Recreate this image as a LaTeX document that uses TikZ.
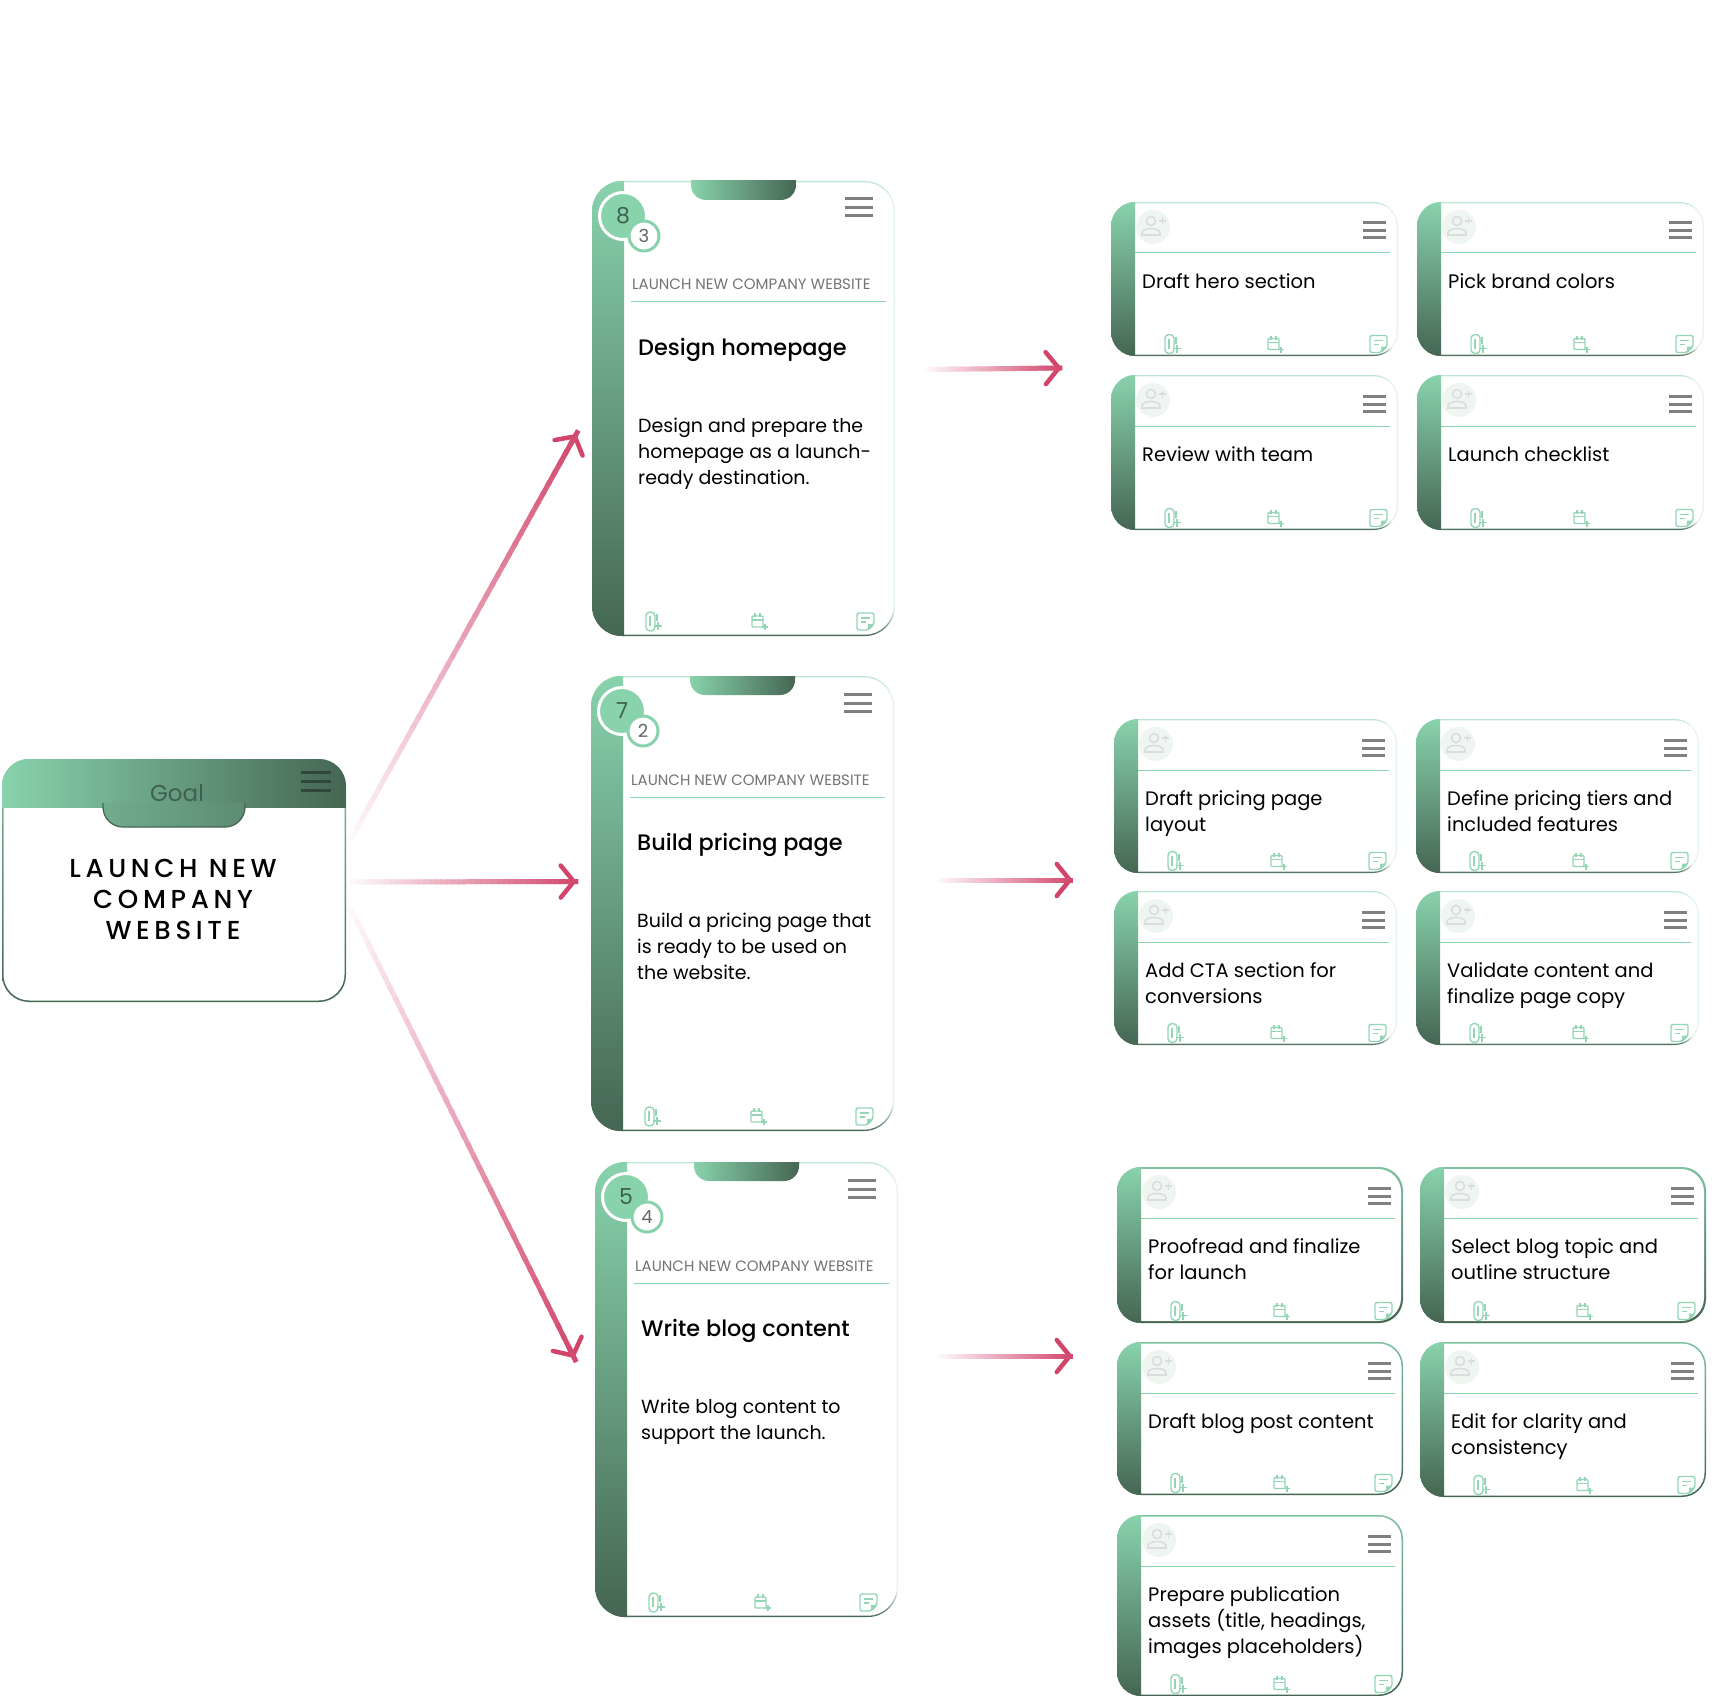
\documentclass[tikz,border=0pt]{standalone}
\usepackage{fontspec}
\setmainfont{Poppins}
\newfontfamily\mediumfont{Poppins Medium}
\newfontfamily\spacedfont[LetterSpace=18]{Poppins Medium}
\usetikzlibrary{arrows.meta,calc}

\definecolor{mint}{HTML}{88D2AC}
\definecolor{pine}{HTML}{456652}
\definecolor{pineink}{HTML}{3F5F50}
\definecolor{hamgray}{HTML}{808080}
\definecolor{rosered}{HTML}{D2456B}
\definecolor{avatarpale}{HTML}{EFF6F2}
\definecolor{avatargray}{HTML}{DADDDB}
\colorlet{edgetop}{mint!55!white}
\colorlet{edgepale}{mint!22!white}
\colorlet{edgestrongtop}{mint!85!pine}
\colorlet{edgestrongmid}{mint!40!pine}

\pgfdeclareverticalshading{cardedge}{100bp}{color(0bp)=(pine); color(25bp)=(pine);
  color(28bp)=(edgepale); color(50bp)=(edgepale); color(73bp)=(edgepale); color(75bp)=(edgetop); color(100bp)=(edgetop)}
\pgfdeclareverticalshading{cardedgestrong}{100bp}{color(0bp)=(pine); color(25bp)=(pine);
  color(50bp)=(edgestrongmid); color(75bp)=(edgestrongtop); color(100bp)=(edgestrongtop)}

\newcommand{\firstline}[1]{\vtop{\let\\\cr\halign{##\hfil\cr#1\crcr}}}

\tikzset{
  edgebox/.style={shade,inner sep=0pt,outer sep=0pt,anchor=north west},
  hamline/.style={line width=3pt,hamgray},
  iconline/.style={line width=1.4pt,mint!90!white},
  flowline/.style={line width=5pt,rosered!5!white,
    -{Straight Barb[length=13pt,width=32pt,line width=4.5pt,round,color=rosered]}},
  cardhead/.style={font=\fontsize{15}{18}\selectfont,text=black!55,inner sep=0pt,anchor=base west},
  cardtitle/.style={font=\mediumfont\fontsize{22.4}{28}\selectfont,inner sep=0pt,anchor=base west},
  cardbody/.style={font=\fontsize{19}{26}\selectfont,inner sep=0pt,anchor=base west},
  tasktext/.style={font=\fontsize{19.5}{26}\selectfont,inner sep=0pt,anchor=base west},
  clipicon/.pic={
    \draw[iconline,rounded corners=4pt] (-5,-9) rectangle (4,10);
    \draw[iconline] (-1,-5) -- (-1,5);
    \draw[iconline] (6,-7) -- (6,0);
    \draw[iconline] (3,5) -- (11,5);
    \draw[iconline] (7,1) -- (7,9);
  },
  calicon/.pic={
    \draw[iconline,rounded corners=1pt] (-6,-5) rectangle (5,6);
    \draw[iconline] (-6,-1) -- (5,-1);
    \draw[iconline] (-3,-8) -- (-3,-4);
    \draw[iconline] (2,-8) -- (2,-4);
    \draw[iconline] (4,6) -- (10,6);
    \draw[iconline] (7,3) -- (7,9);
  },
  noteicon/.pic={
    \draw[iconline,rounded corners=2pt] (-9,-8) -- (8,-8) -- (8,3) -- (2,9) -- (-9,9) -- cycle;
    \draw[iconline] (-5,-3) -- (4,-3);
    \draw[iconline] (-5,1) -- (0,1);
    \fill[mint!90!white] (8,3) -- (2,3) -- (2,9) -- cycle;
  },
  avataricon/.pic={
    \fill[avatarpale] (0,0) circle (17);
    \draw[line width=1.6pt,avatargray] (-2,-6) circle (4.5);
    \draw[line width=1.6pt,avatargray] (-11,8) -- (-11,6) .. controls (-11,0) and (7,0) .. (7,6) -- (7,8) -- cycle;
    \draw[line width=1.6pt,avatargray] (6,-6) -- (13,-6);
    \draw[line width=1.6pt,avatargray] (9.5,-9.5) -- (9.5,-2.5);
  },
}

% rounded task card: name, x, y, width, height, text
\def\edgew{1.3}
\def\edgeshade{cardedge}
\newcommand{\taskcard}[6]{
  \begin{scope}[shift={(#2,#3)}]
    \node[edgebox,shading=\edgeshade,minimum width=#4pt,minimum height=#5pt,rounded corners=24pt] (#1) at (0,0) {};
    \fill[white,rounded corners=23pt] (\edgew,\edgew) rectangle (#4-\edgew,#5-\edgew);
    \begin{scope}
      \clip[rounded corners=24pt] (0,0) rectangle (#4,#5);
      \shade[top color=mint,bottom color=pine] (0,0) rectangle (24,#5);
    \end{scope}
    \pic at (42,25) {avataricon};
    \foreach \hy in {21,29,36} \draw[hamline] (#4-35,\hy) -- (#4-12,\hy);
    \draw[line width=1pt,mint] (24,51) -- (#4-8,51);
    \node[tasktext] (#1-text) at (31,86) {\firstline{#6}};
    \pic at (59,#5-12.5) {clipicon};
    \pic at (163,#5-12.5) {calicon};
    \pic at (#4-19,#5-12.5) {noteicon};
  \end{scope}
}

% tall card: name, x, y, number, count, title, body
\newcommand{\stepcard}[7]{
  \begin{scope}[shift={(#2,#3)}]
    \node[edgebox,shading=cardedge,minimum width=303pt,minimum height=455pt,rounded corners=30pt] (#1) at (0,0) {};
    \fill[white,rounded corners=29pt] (1.3,1.3) rectangle (301.7,453.7);
    \begin{scope}
      \clip[rounded corners=30pt] (0,0) rectangle (303,455);
      \shade[top color=mint,bottom color=pine] (0,0) rectangle (32,455);
    \end{scope}
    \begin{scope}
      \clip (99,0) rectangle (204,19);
      \shade[left color=mint,right color=pine,rounded corners=15pt] (99,-20) rectangle (204,19);
    \end{scope}
    \node[circle,fill=mint,draw=white,line width=3pt,minimum size=47pt,inner sep=0pt,
      text=pineink,font=\fontsize{22}{22}\selectfont] (#1-num) at (31,35) {#4};
    \node[circle,fill=white,draw=mint,line width=3pt,minimum size=30pt,inner sep=0pt,
      text=black!60,font=\fontsize{18}{18}\selectfont] (#1-count) at (52,55) {#5};
    \foreach \hy in {18,27,35} \draw[hamline] (253,\hy) -- (281,\hy);
    \node[cardhead] (#1-goal) at (40,109) {LAUNCH NEW COMPANY WEBSITE};
    \draw[line width=1pt,mint] (39,121) -- (294,121);
    \node[cardtitle] (#1-title) at (46,174) {#6};
    \node[cardbody] (#1-body) at (46,251) {\firstline{#7}};
    \pic at (59,440) {clipicon};
    \pic at (166,440) {calicon};
    \pic at (274,440) {noteicon};
  \end{scope}
}

% pale start, strong end
\newcommand{\fadeflow}[2]{
  \draw[flowline] (#1) -- (#2);
  \foreach \t in {0,...,39} {
    \pgfmathsetmacro\ta{\t/40}
    \pgfmathsetmacro\tb{(\t+1.4)/40}
    \pgfmathsetmacro\tp{4+2.4*\t}
    \draw[line width=5pt,rosered!\tp!white] ($(#1)!\ta!(#2)$) -- ($(#1)!\tb!(#2)$);
  }
}

\begin{document}
\begin{tikzpicture}[x=1pt,y=-1pt]
  \useasboundingbox (0,0) rectangle (1721,1696);

  % goal
  \node[edgebox,top color=mint!85!pine,bottom color=pine,minimum width=344pt,minimum height=243pt,rounded corners=27pt] (goal) at (2,759) {};
  \fill[white,rounded corners=26pt] (3.5,760.5) rectangle (344.5,1000.5);
  \begin{scope}
    \clip[rounded corners=27pt] (2,759) rectangle (346,1002);
    \shade[left color=mint,right color=pine] (2,759) rectangle (346,807);
  \end{scope}
  \begin{scope}
    \clip (102,803) rectangle (246,828);
    \shadedraw[left color=mint!65!pine,right color=mint!35!pine,draw=pine,line width=1.3pt,rounded corners=20pt]
      (103,770) rectangle (245,827);
  \end{scope}
  \node[inner sep=0pt,anchor=base,text=pineink,font=\fontsize{23}{25}\selectfont] (goal-tag) at (177,801) {Goal};
  \foreach \hy in {772,781,790} \draw[line width=3pt,pine!70!black] (301,\hy) -- (331,\hy);
  \node[inner sep=0pt,anchor=base,align=center,font=\spacedfont\fontsize{26}{31}\selectfont] (goal-text) at (173,939)
    {LAUNCH NEW\\COMPANY\\WEBSITE};

  % steps
  \stepcard{design}{592}{181}{8}{3}{Design homepage}{Design and prepare the\\homepage as a launch-\\ready destination.}
  \stepcard{pricing}{591}{676}{7}{2}{Build pricing page}{Build a pricing page that\\is ready to be used on\\the website.}
  \stepcard{blog}{595}{1162}{5}{4}{Write blog content}{Write blog content to\\support the launch.}

  % tasks
  \taskcard{hero}{1111}{202}{287}{154}{Draft hero section}
  \taskcard{colors}{1417}{202}{287}{154}{Pick brand colors}
  \taskcard{review}{1111}{375}{287}{155}{Review with team}
  \taskcard{checklist}{1417}{375}{287}{155}{Launch checklist}

  \taskcard{layout}{1114}{719}{283}{154}{Draft pricing page\\layout}
  \taskcard{tiers}{1416}{719}{283}{154}{Define pricing tiers and\\included features}
  \taskcard{cta}{1114}{891}{283}{154}{Add CTA section for\\conversions}
  \taskcard{validate}{1416}{891}{283}{154}{Validate content and\\finalize page copy}

  \def\edgeshade{cardedgestrong}
  \def\edgew{2}
  \taskcard{proof}{1117}{1167}{286}{156}{Proofread and finalize\\for launch}
  \taskcard{topic}{1420}{1167}{286}{156}{Select blog topic and\\outline structure}
  \def\edgew{1.5}
  \taskcard{post}{1117}{1342}{286}{153}{Draft blog post content}
  \taskcard{edit}{1420}{1342}{286}{155}{Edit for clarity and\\consistency}
  \taskcard{assets}{1117}{1515}{286}{181}{Prepare publication\\assets (title, headings,\\images placeholders)}

  % arrows
  \coordinate (goal-a) at ($(goal.east)+(4,-40)$);
  \coordinate (goal-b) at ($(goal.east)+(4,1.5)$);
  \coordinate (goal-c) at ($(goal.east)+(4,26.5)$);
  \coordinate (design-in) at ($(design.west)+(-16,26)$);
  \coordinate (pricing-in) at ($(pricing.west)+(-15,-22)$);
  \coordinate (blog-in) at ($(blog.west)+(-21,-32)$);
  \coordinate (design-out) at ($(design.east)+(30,-39)$);
  \coordinate (pricing-out) at ($(pricing.east)+(44,-23.5)$);
  \coordinate (blog-out) at ($(blog.east)+(40,-33.5)$);
  \coordinate (hero-in) at ($(hero.south west)+(-50,12)$);
  \coordinate (layout-in) at ($(layout.south west)+(-42,7)$);
  \coordinate (proof-in) at ($(proof.south west)+(-45,33)$);

  \fadeflow{goal-a}{design-in}
  \fadeflow{goal-b}{pricing-in}
  \fadeflow{goal-c}{blog-in}
  \fadeflow{design-out}{hero-in}
  \fadeflow{pricing-out}{layout-in}
  \fadeflow{blog-out}{proof-in}
\end{tikzpicture}
\end{document}
